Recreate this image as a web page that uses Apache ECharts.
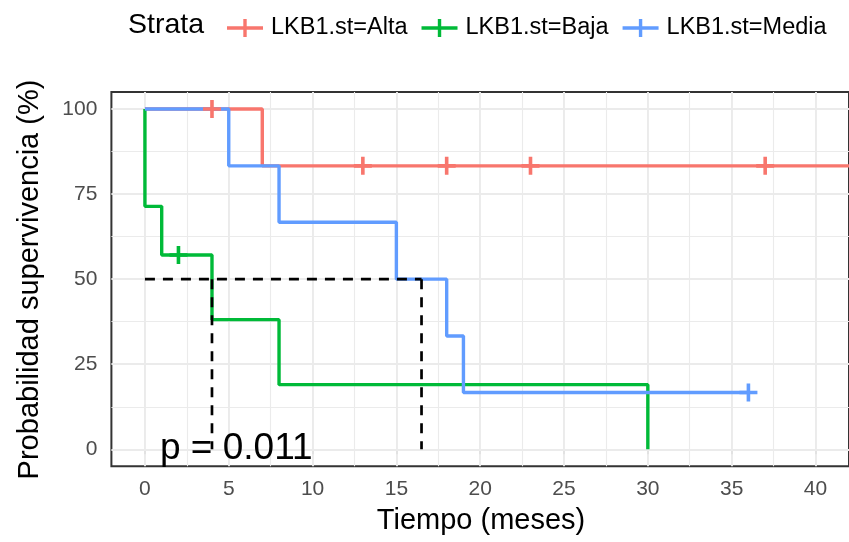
<!DOCTYPE html>
<html>
<head>
<meta charset="utf-8">
<script src="https://cdn.jsdelivr.net/npm/echarts@6/dist/echarts.min.js"></script>
<style>
  html, body { margin: 0; padding: 0; background: #ffffff; }
  #chart { width: 849px; height: 542px; }
</style>
</head>
<body>
<div id="chart"></div>
<script>
// Kaplan-Meier curves by LKB1 status
const strata = ['LKB1.st=Alta', 'LKB1.st=Baja', 'LKB1.st=Media'];
const strataColors = ['#F8766D', '#00BA38', '#619CFF'];

// step curves: event times and survival (%)
const altaTime = [0, 7, 42];
const altaSurv = [100, 83.3, 83.3];
const bajaTime = [0, 0, 1, 4, 8, 30];
const bajaSurv = [100, 71.4, 57.1, 38.1, 19.0, 0];
const mediaTime = [0, 5, 8, 15, 18, 19, 36];
const mediaSurv = [100, 83.3, 66.7, 50, 33.3, 16.7, 16.7];

// censored observations
const altaCensorTime = [4, 13, 18, 23, 37];
const altaCensorSurv = [100, 83.3, 83.3, 83.3, 83.3];
const bajaCensorTime = [2];
const bajaCensorSurv = [57.1];
const mediaCensorTime = [36];
const mediaCensorSurv = [16.7];

// median survival guides
const medianTimes = [4, 16.5];
const medianLevel = 50;

// axis ticks
const xTicks = [0, 5, 10, 15, 20, 25, 30, 35, 40];
const xMinorTicks = [2.5, 7.5, 12.5, 17.5, 22.5, 27.5, 32.5, 37.5];
const yTicks = [0, 25, 50, 75, 100];
const yMinorTicks = [12.5, 37.5, 62.5, 87.5];

const pValueText = 'p = 0.011';
const xTitle = 'Tiempo (meses)';
const yTitle = 'Probabilidad supervivencia (%)';
const legendTitle = 'Strata';

const FONT = '"Liberation Sans", Arial, Helvetica, sans-serif';
const PLUS = 'path://M7,0H10.5V17.5H7Z M0,7H17.5V10.5H0Z';
const LEGEND_ICON = 'path://M0,7.3H36V10.7H0Z M16.3,0H19.7V18H16.3Z';

const zip = (xs, ys) => xs.map((x, i) => [x, ys[i]]);

const curves = [
  zip(altaTime, altaSurv),
  zip(bajaTime, bajaSurv),
  zip(mediaTime, mediaSurv)
];
const censors = [
  zip(altaCensorTime, altaCensorSurv),
  zip(bajaCensorTime, bajaCensorSurv),
  zip(mediaCensorTime, mediaCensorSurv)
];

// panel grid lines (major + minor)
const gridLineData = []
  .concat(xTicks.map(v => ({ xAxis: v, lineStyle: { width: 1.9 } })))
  .concat(xMinorTicks.map(v => ({ xAxis: v, lineStyle: { width: 1.1 } })))
  .concat(yTicks.map(v => ({ yAxis: v, lineStyle: { width: 1.9 } })))
  .concat(yMinorTicks.map(v => ({ yAxis: v, lineStyle: { width: 1.1 } })));

const series = [];
strata.forEach((name, i) => {
  const s = {
    name: name,
    type: 'line',
    step: 'end',
    data: curves[i],
    symbol: 'none',
    color: strataColors[i],
    lineStyle: { width: 3.4, color: strataColors[i] },
    z: 2,
    silent: true,
    clip: true
  };
  if (i === 0) {
    s.markLine = {
      silent: true,
      z: 1,
      symbol: ['none', 'none'],
      label: { show: false },
      lineStyle: { color: '#EBEBEB', type: 'solid' },
      emphasis: { disabled: true },
      animation: false,
      data: gridLineData
    };
  }
  series.push(s);
});
strata.forEach((name, i) => {
  series.push({
    name: name,
    type: 'scatter',
    data: censors[i],
    symbol: PLUS,
    symbolSize: 18,
    itemStyle: { color: strataColors[i], opacity: 1 },
    z: 3,
    silent: true
  });
});

// dashed median lines: horizontal at 50% and drops to the time axis
const medianDash = { color: '#000000', width: 2.7, type: [10, 8] };
series.push({
  type: 'line',
  data: [[0, medianLevel], [Math.max.apply(null, medianTimes), medianLevel]],
  symbol: 'none',
  lineStyle: medianDash,
  z: 4,
  silent: true
});
medianTimes.forEach(t => {
  series.push({
    type: 'line',
    data: [[t, medianLevel], [t, 0]],
    symbol: 'none',
    lineStyle: medianDash,
    z: 4,
    silent: true
  });
});

const chart = echarts.init(document.getElementById('chart'), null, { renderer: 'canvas' });
chart.setOption({
  animation: false,
  backgroundColor: '#ffffff',
  grid: {
    left: 111.4,
    top: 92,
    width: 739.2,
    height: 374.3,
    show: true,
    borderColor: '#333333',
    borderWidth: 2,
    backgroundColor: 'transparent'
  },
  legend: {
    data: strata,
    left: 222,
    top: 11,
    icon: LEGEND_ICON,
    itemWidth: 36,
    itemHeight: 18,
    itemGap: 14,
    itemStyle: { borderWidth: 0 },
    selectedMode: false,
    textStyle: { fontSize: 23.5, color: '#000000', fontFamily: FONT, padding: [0, 0, 0, 3] }
  },
  xAxis: {
    type: 'value',
    min: -2,
    max: 42,
    axisLine: { show: false },
    splitLine: { show: false },
    axisTick: { show: true, length: 5, lineStyle: { color: '#333333', width: 1.8 }, customValues: xTicks },
    axisLabel: { customValues: xTicks, fontSize: 21, color: '#4D4D4D', margin: 12, fontFamily: FONT }
  },
  yAxis: {
    type: 'value',
    min: -5,
    max: 105,
    axisLine: { show: false },
    splitLine: { show: false },
    axisTick: { show: true, length: 5, lineStyle: { color: '#333333', width: 1.8 }, customValues: yTicks },
    axisLabel: { customValues: yTicks, fontSize: 21, color: '#4D4D4D', margin: 14, fontFamily: FONT }
  },
  graphic: [
    {
      type: 'text', x: 128, y: 25.5,
      style: { text: legendTitle, fill: '#000000', font: '28.5px ' + FONT, textAlign: 'left', align: 'left', textVerticalAlign: 'middle', verticalAlign: 'middle' }
    },
    {
      type: 'text', x: 481, y: 521,
      style: { text: xTitle, fill: '#000000', font: '29px ' + FONT, textAlign: 'center', align: 'center', textVerticalAlign: 'middle', verticalAlign: 'middle' }
    },
    {
      type: 'text', x: 30, y: 279.5, rotation: Math.PI / 2,
      style: { text: yTitle, fill: '#000000', font: '29px ' + FONT, textAlign: 'center', align: 'center', textVerticalAlign: 'middle', verticalAlign: 'middle' }
    },
    {
      type: 'text', x: 160, y: 449, z: 10,
      style: { text: pValueText, fill: '#000000', font: '37px ' + FONT, textAlign: 'left', align: 'left', textVerticalAlign: 'middle', verticalAlign: 'middle' }
    }
  ],
  series: series
});
</script>
</body>
</html>
